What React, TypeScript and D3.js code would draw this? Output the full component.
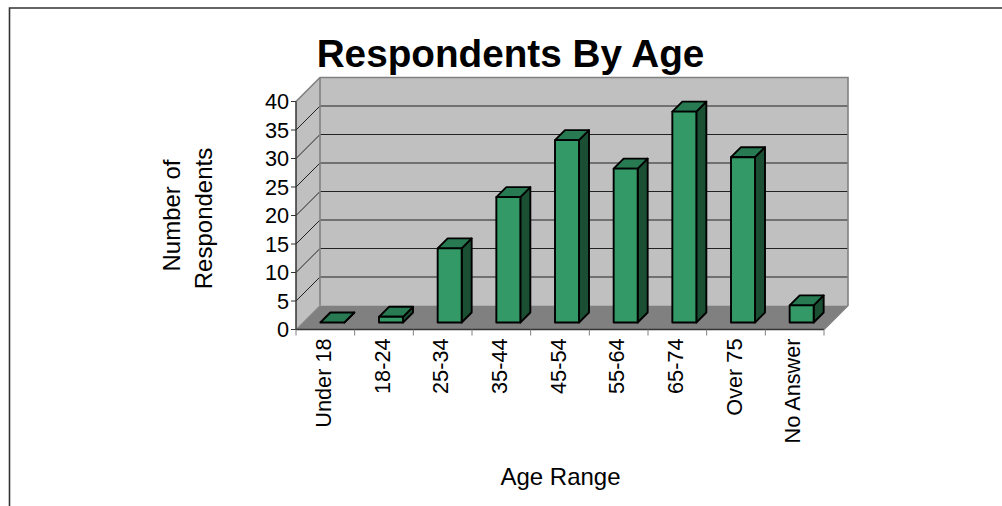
import React from "react";
import * as d3 from "d3";

const categories = ["Under 18", "18-24", "25-34", "35-44", "45-54", "55-64", "65-74", "Over 75", "No Answer"];
const respondents = [0, 1, 13, 22, 32, 27, 37, 29, 3];
const valueTicks = [0, 5, 10, 15, 20, 25, 30, 35, 40];

const FONT = "'Liberation Sans', Arial, sans-serif";
const GREEN = "#339966";
const GREEN_TOP = "#277a52";
const GREEN_SIDE = "#1a4f33";
const INK = "#000000";

// Plot frame: front plane and depth offset of the back wall
const frontLeft = 296;
const frontRight = 824;
const frontBottom = 329.5;
const frontTop = 101.5;
const wallDepth = 24;
const barInset = 7;
const barDepth = 10;
const barWidth = 24;

const x = d3.scaleBand<string>().domain(categories).range([frontLeft, frontRight]);
const y = d3.scaleLinear().domain([0, 40]).range([frontBottom, frontTop]);

const poly = (pts: [number, number][]) => pts.map((p) => p.join(",")).join(" ");

export default function App() {
  const wallLeft = frontLeft + wallDepth;
  const wallRight = frontRight + wallDepth;
  const backY = (v: number) => y(v) - wallDepth;

  return (
    <svg
      width={1002}
      height={506}
      style={{ position: "absolute", left: 0, top: 0, background: "#fff" }}
      fontFamily={FONT}
    >
      <path d="M9.5,506 V8 H1002" fill="none" stroke="#333" strokeWidth={1.6} />

      <text x={510.5} y={67} textAnchor="middle" fontSize={38.7} fontWeight={700} fill={INK}>
        Respondents By Age
      </text>

      {/* Back wall, side wall and floor */}
      <polygon
        points={poly([[wallLeft, backY(40)], [wallRight, backY(40)], [wallRight, backY(0)], [wallLeft, backY(0)]])}
        fill="#c0c0c0"
      />
      <polygon
        points={poly([[frontLeft, y(40)], [wallLeft, backY(40)], [wallLeft, backY(0)], [frontLeft, y(0)]])}
        fill="#c0c0c0"
      />
      <polygon
        points={poly([[frontLeft, y(0)], [wallLeft, backY(0)], [wallRight, backY(0)], [frontRight, y(0)]])}
        fill="#808080"
      />

      {/* Gridlines run along the side wall and across the back wall */}
      {valueTicks.filter((t) => t > 0 && t < 40).map((t) => (
        <polyline
          key={t}
          points={poly([[frontLeft, y(t)], [wallLeft, backY(t)], [wallRight, backY(t)]])}
          fill="none"
          stroke="#222"
          strokeWidth={1}
        />
      ))}

      {/* Wall outlines */}
      <polyline
        points={poly([[frontLeft, y(40)], [wallLeft, backY(40)], [wallRight, backY(40)], [wallRight, backY(0)], [frontRight, y(0)]])}
        fill="none"
        stroke="#808080"
        strokeWidth={1.6}
      />
      <line x1={wallLeft} y1={backY(40)} x2={wallLeft} y2={backY(0)} stroke="#808080" strokeWidth={1.6} />
      <line x1={frontLeft} y1={y(0)} x2={wallLeft} y2={backY(0)} stroke="#808080" strokeWidth={1} />

      {/* Bars */}
      {categories.map((c, i) => {
        const band = x.bandwidth();
        const x0 = (x(c) as number) + (band - barWidth) / 2 + barInset;
        const x1 = x0 + barWidth;
        const base = y(0) - barInset;
        const top = base - (y(0) - y(respondents[i]));
        return (
          <g key={c} stroke={INK} strokeWidth={1.9} strokeLinejoin="round">
            <polygon
              points={poly([[x1, top], [x1 + barDepth, top - barDepth], [x1 + barDepth, base - barDepth], [x1, base]])}
              fill={GREEN_SIDE}
            />
            <polygon
              points={poly([[x0, top], [x0 + barDepth, top - barDepth], [x1 + barDepth, top - barDepth], [x1, top]])}
              fill={GREEN_TOP}
            />
            <rect x={x0} y={top} width={barWidth} height={base - top} fill={GREEN} />
          </g>
        );
      })}

      {/* Value axis */}
      <line x1={frontLeft} y1={y(40)} x2={frontLeft} y2={y(0)} stroke="#333" strokeWidth={1.5} />
      {valueTicks.map((t) => (
        <g key={t}>
          <line x1={frontLeft - 5} y1={y(t)} x2={frontLeft} y2={y(t)} stroke="#333" strokeWidth={1} />
          <text x={frontLeft - 7} y={y(t) + 7.5} textAnchor="end" fontSize={21.7} fill={INK}>
            {t}
          </text>
        </g>
      ))}

      {/* Category axis */}
      <line x1={frontLeft} y1={y(0)} x2={frontRight} y2={y(0)} stroke="#333" strokeWidth={1.5} />
      {[...categories.map((c) => x(c) as number), frontRight].map((px) => (
        <line key={px} x1={px} y1={y(0)} x2={px} y2={y(0) + 6} stroke="#808080" strokeWidth={1} />
      ))}
      {categories.map((c) => {
        const cx = (x(c) as number) + x.bandwidth() / 2;
        return (
          <text
            key={c}
            transform={`translate(${cx + 5.5},${y(0) + 9}) rotate(-90)`}
            textAnchor="end"
            fontSize={21.7}
            fill={INK}
          >
            {c}
          </text>
        );
      })}

      <text x={560.5} y={485} textAnchor="middle" fontSize={24} fill={INK}>
        Age Range
      </text>
      <text transform="translate(180,215.5) rotate(-90)" textAnchor="middle" fontSize={24} fill={INK}>
        Number of
      </text>
      <text transform="translate(212,218.5) rotate(-90)" textAnchor="middle" fontSize={24} fill={INK}>
        Respondents
      </text>
    </svg>
  );
}
